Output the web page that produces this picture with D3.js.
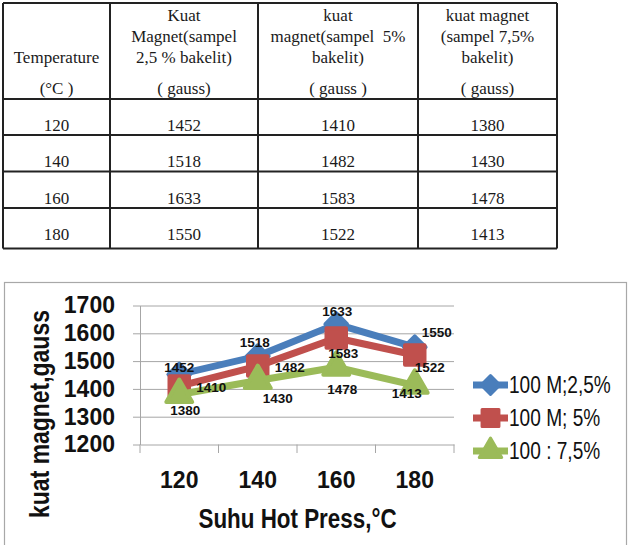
<!DOCTYPE html>
<html>
<head>
<meta charset="utf-8">
<script src="https://cdn.jsdelivr.net/npm/d3@7"></script>
<style>
  html, body { margin: 0; padding: 0; background: #fff; }
  svg { display: block; }
</style>
</head>
<body>
<div id="chart"></div>
<script>
// data
const temps = [120, 140, 160, 180];
const magnet25 = [1452, 1518, 1633, 1550];
const magnet5 = [1410, 1482, 1583, 1522];
const magnet75 = [1380, 1430, 1478, 1413];
const seriesNames = ["100 M;2,5%", "100 M; 5%", "100 : 7,5%"];
const yTicks = [1200, 1300, 1400, 1500, 1600, 1700];

const headers = [
  ["", "", "Temperature", "(°C )"],
  ["Kuat", "Magnet(sampel", "2,5 % bakelit)", "( gauss)"],
  ["kuat", "magnet(sampel  5%", "bakelit)", "( gauss )"],
  ["kuat magnet", "(sampel 7,5%", "bakelit)", "( gauss)"]
];

const W = 628, H = 545;
const svg = d3.select("#chart").append("svg")
  .attr("width", W)
  .attr("height", H);

// ---- table ----
const colX = [3, 110, 258, 418, 557];
const rowY = [3, 99, 135, 171.5, 208, 248.5];
const headBase = [21, 42, 63, 94];

const table = svg.append("g")
  .attr("font-family", "'Liberation Serif', 'Times New Roman', serif")
  .attr("font-size", 17)
  .attr("fill", "#1a1a1a");

headers.forEach((lines, c) => {
  const cx = (colX[c] + colX[c + 1]) / 2;
  lines.forEach((t, i) => {
    if (!t) return;
    table.append("text")
      .attr("x", cx)
      .attr("y", headBase[i])
      .attr("text-anchor", "middle")
      .style("white-space", "pre")
      .text(t);
  });
});

const tableRows = temps.map((t, i) => [t, magnet25[i], magnet5[i], magnet75[i]]);
tableRows.forEach((row, r) => {
  row.forEach((v, c) => {
    table.append("text")
      .attr("x", (colX[c] + colX[c + 1]) / 2)
      .attr("y", rowY[r + 1] + 32)
      .attr("text-anchor", "middle")
      .text(v);
  });
});

const border = svg.append("g")
  .attr("stroke", "#222")
  .attr("stroke-width", 2);
rowY.forEach(y => {
  border.append("line").attr("x1", colX[0]).attr("x2", colX[4]).attr("y1", y).attr("y2", y);
});
colX.forEach(x => {
  border.append("line").attr("x1", x).attr("x2", x).attr("y1", rowY[0]).attr("y2", rowY[5]);
});

// ---- chart ----
svg.append("rect")
  .attr("x", 4.5)
  .attr("y", 282.5)
  .attr("width", 622)
  .attr("height", 280)
  .attr("fill", "none")
  .attr("stroke", "#a8a8a8")
  .attr("stroke-width", 1.2);

const x = d3.scaleBand().domain(temps).range([140, 454]);
const y = d3.scaleLinear().domain([1200, 1700]).range([444.5, 305.5]);

// gridlines
svg.append("g")
  .attr("transform", "translate(140,0)")
  .call(d3.axisLeft(y).tickValues(yTicks.slice(1)).tickSize(-314).tickFormat(""))
  .call(g => g.select(".domain").remove())
  .call(g => g.selectAll("line").attr("stroke", "#a6a6a6"));

// y axis
svg.append("g")
  .attr("transform", "translate(140,0)")
  .call(d3.axisLeft(y).tickValues(yTicks).tickFormat(d3.format("d")).tickSize(7).tickSizeOuter(0).tickPadding(18))
  .call(g => g.select(".domain").attr("stroke", "#a6a6a6"))
  .call(g => g.selectAll("line").attr("stroke", "#a6a6a6"))
  .call(g => g.selectAll("text")
    .attr("font-family", "'Liberation Sans', Arial, sans-serif")
    .attr("font-weight", "bold")
    .attr("font-size", 23)
    .attr("fill", "#111"));

// x axis
svg.append("g")
  .attr("transform", "translate(0,444.5)")
  .call(d3.axisBottom(x).tickSize(0).tickSizeOuter(0).tickPadding(27))
  .call(g => g.select(".domain").attr("stroke", "#a6a6a6"))
  .call(g => g.selectAll("text")
    .attr("font-family", "'Liberation Sans', Arial, sans-serif")
    .attr("font-weight", "bold")
    .attr("font-size", 23)
    .attr("fill", "#111"));

const bounds = temps.map(t => x(t)).concat([x.range()[1]]);
svg.append("g")
  .attr("stroke", "#a6a6a6")
  .selectAll("line")
  .data(bounds)
  .join("line")
  .attr("x1", d => d).attr("x2", d => d)
  .attr("y1", 444.5).attr("y2", 453);

// axis titles (squeezed horizontally to get a Calibri-like narrow look)
const titleFont = "'Liberation Sans', Arial, sans-serif";
svg.append("text")
  .attr("transform", "translate(297.5,528) scale(0.83,1)")
  .attr("text-anchor", "middle")
  .attr("font-family", titleFont)
  .attr("font-weight", "bold")
  .attr("font-size", 27)
  .attr("fill", "#111")
  .text("Suhu Hot Press,°C");

svg.append("text")
  .attr("transform", "translate(49,414) rotate(-90) scale(0.85,1)")
  .attr("text-anchor", "middle")
  .attr("font-family", titleFont)
  .attr("font-weight", "bold")
  .attr("font-size", 27)
  .attr("fill", "#111")
  .text("kuat magnet,gauss");

// series
const colors = ["#4a7ebb", "#c0504d", "#9bbb59"];
const symbols = [d3.symbolDiamond2, d3.symbolSquare, d3.symbolTriangle];
const symSizes = [300, 380, 290];
const values = [magnet25, magnet5, magnet75];
// label placement (offset from marker centre)
const labelOffsets = [
  [[0, -7], [-3, -14], [1, -13], [22, -15]],
  [[32, 1], [32, 1], [7, 15], [15, 12]],
  [[6, 16], [20, 18], [6, 22], [-8, 8]]
];

const line = d3.line()
  .x((d, i) => x(temps[i]) + x.bandwidth() / 2)
  .y(d => y(d));

values.forEach((vals, s) => {
  const g = svg.append("g");
  g.append("path")
    .datum(vals)
    .attr("d", line)
    .attr("fill", "none")
    .attr("stroke", colors[s])
    .attr("stroke-width", 7)
    .attr("stroke-linejoin", "round");
  g.selectAll("path.mk")
    .data(vals)
    .join("path")
    .attr("class", "mk")
    .attr("transform", (d, i) => `translate(${x(temps[i]) + x.bandwidth() / 2},${y(d)})`)
    .attr("d", d3.symbol(symbols[s], symSizes[s]))
    .attr("fill", colors[s])
    .attr("stroke", colors[s])
    .attr("stroke-width", 4)
    .attr("stroke-linejoin", "round");
});

values.forEach((vals, s) => {
  svg.append("g")
    .selectAll("text")
    .data(vals)
    .join("text")
    .attr("x", (d, i) => x(temps[i]) + x.bandwidth() / 2 + labelOffsets[s][i][0])
    .attr("y", (d, i) => y(d) + labelOffsets[s][i][1])
    .attr("dy", "0.36em")
    .attr("text-anchor", "middle")
    .attr("font-family", "'Liberation Sans', Arial, sans-serif")
    .attr("font-weight", "bold")
    .attr("font-size", 13.5)
    .attr("fill", "#111")
    .text(d => d);
});

// legend
const legend = svg.append("g")
  .selectAll("g")
  .data(seriesNames)
  .join("g")
  .attr("transform", (d, i) => `translate(473,${385 + i * 33})`);
legend.append("line")
  .attr("x1", 0).attr("x2", 35)
  .attr("stroke", (d, i) => colors[i])
  .attr("stroke-width", 7);
legend.append("path")
  .attr("transform", "translate(17.5,0)")
  .attr("d", (d, i) => d3.symbol(symbols[i], symSizes[i] * 0.75)())
  .attr("fill", (d, i) => colors[i])
  .attr("stroke", (d, i) => colors[i])
  .attr("stroke-width", 3)
  .attr("stroke-linejoin", "round");
legend.append("text")
  .attr("transform", "translate(36,0) scale(0.83,1)")
  .attr("dy", "0.36em")
  .attr("font-family", titleFont)
  .attr("font-size", 23)
  .attr("fill", "#111")
  .text(d => d);
</script>
</body>
</html>
